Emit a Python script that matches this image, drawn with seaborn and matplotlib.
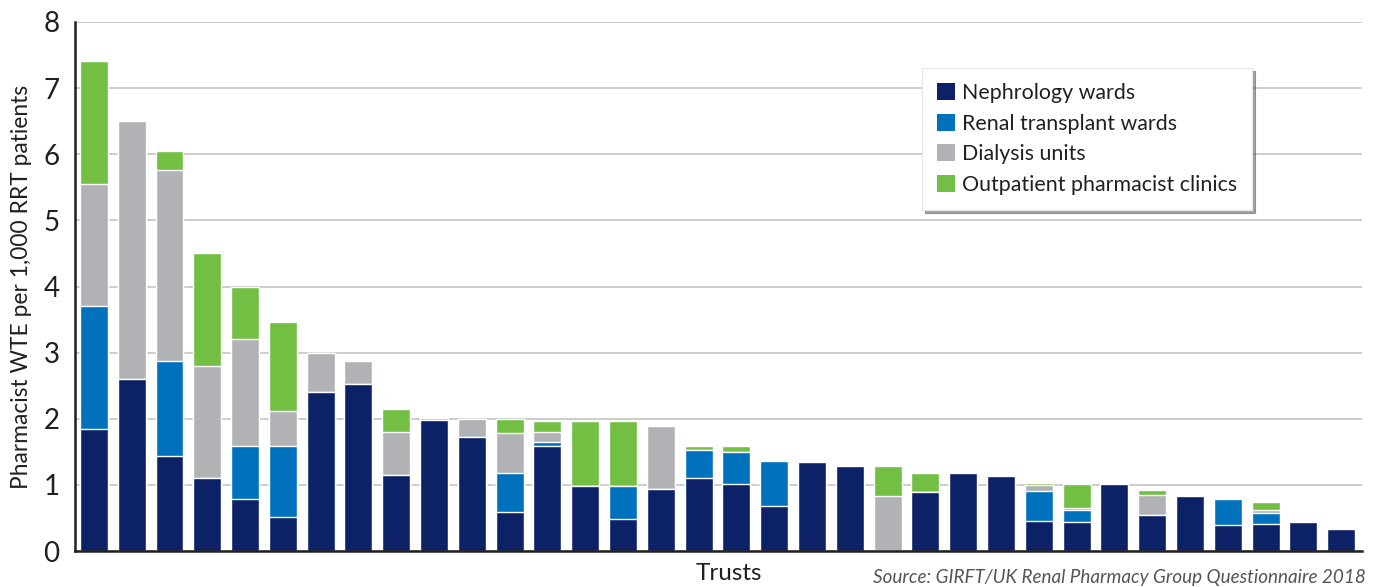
import numpy as np
import pandas as pd
import matplotlib
matplotlib.use("Agg")
import matplotlib.pyplot as plt
import seaborn as sns
from matplotlib.patches import Patch

trusts = [f"T{i+1}" for i in range(34)]
nephrology = [1.85, 2.60, 1.43, 1.11, 0.79, 0.52, 2.40, 2.53, 1.15, 1.98, 1.73, 0.59,
              1.59, 0.99, 0.49, 0.94, 1.11, 1.02, 0.68, 1.35, 1.29, 0.00, 0.89, 1.18,
              1.14, 0.46, 0.44, 1.02, 0.55, 0.83, 0.40, 0.41, 0.44, 0.33]
transplant = [1.85, 0.00, 1.45, 0.00, 0.80, 1.07, 0.00, 0.00, 0.00, 0.00, 0.00, 0.59,
              0.06, 0.00, 0.50, 0.00, 0.41, 0.47, 0.68, 0.00, 0.00, 0.00, 0.00, 0.00,
              0.00, 0.45, 0.18, 0.00, 0.00, 0.00, 0.39, 0.17, 0.00, 0.00]
dialysis = [1.85, 3.90, 2.88, 1.69, 1.61, 0.53, 0.59, 0.35, 0.65, 0.00, 0.27, 0.61,
            0.15, 0.00, 0.00, 0.95, 0.00, 0.00, 0.00, 0.00, 0.00, 0.83, 0.00, 0.00,
            0.00, 0.09, 0.03, 0.00, 0.30, 0.00, 0.00, 0.04, 0.00, 0.00]
outpatient = [1.86, 0.00, 0.29, 1.70, 0.79, 1.34, 0.00, 0.00, 0.34, 0.03, 0.00, 0.20,
              0.17, 0.98, 0.97, 0.00, 0.07, 0.10, 0.00, 0.00, 0.00, 0.46, 0.29, 0.00,
              0.00, 0.03, 0.37, 0.00, 0.07, 0.00, 0.00, 0.12, 0.00, 0.00]

series_names = ["Nephrology wards", "Renal transplant wards", "Dialysis units",
                "Outpatient pharmacist clinics"]
colors = ["#0D2167", "#0071BC", "#B1B2B6", "#72BF44"]

df = pd.DataFrame({"trust": trusts, "n": nephrology, "t": transplant,
                   "d": dialysis, "o": outpatient})
df["c1"] = df["n"]
df["c2"] = df["c1"] + df["t"]
df["c3"] = df["c2"] + df["d"]
df["c4"] = df["c3"] + df["o"]

sns.set_style("white")
plt.rcParams["font.family"] = ["Lato", "DejaVu Sans"]

fig = plt.figure(figsize=(13.84, 5.87), dpi=100)
ax = fig.add_axes([75/1384, 36/587, (1362-75)/1384, (551-22)/587])

for col, color in zip(["c4", "c3", "c2", "c1"], colors[::-1]):
    sns.barplot(data=df, x="trust", y=col, color=color, width=0.74,
                saturation=1, ax=ax, zorder=3, order=trusts)

ax.set_xlim(-0.5, 33.55)
ax.set_ylim(0, 8)
ax.set_yticks(range(0, 9))
ax.set_yticklabels([str(i) for i in range(0, 9)], fontsize=20, color="#231F20")
ax.set_xticks([])
ax.yaxis.grid(True, color="#C9C9C9", linewidth=1.3, zorder=0)
ax.set_axisbelow(True)
for s in ["top", "right"]:
    ax.spines[s].set_visible(False)
for s in ["left", "bottom"]:
    ax.spines[s].set_color("#231F20")
    ax.spines[s].set_linewidth(1.8)
    ax.spines[s].set_zorder(5)
ax.tick_params(axis="y", length=0, pad=11)

ax.set_ylabel("Pharmacist WTE per 1,000 RRT patients", fontsize=16.4, color="#231F20",
              labelpad=8)
ax.set_xlabel("")
fig.text(729/1384, 1 - 574/587, "Trusts", fontsize=17.5, color="#231F20",
         ha="center", va="center")
fig.text(1366/1384, 1 - 577/587,
         "Source: GIRFT/UK Renal Pharmacy Group Questionnaire 2018",
         fontsize=13.6, style="italic", color="#555555", ha="right", va="center")

handles = [Patch(facecolor=c, edgecolor="none") for c in colors]
leg = ax.legend(handles, series_names, loc="upper left",
                bbox_to_anchor=(922/1384, 1 - 68/587), bbox_transform=fig.transFigure,
                fontsize=15.4, frameon=True, shadow=True, fancybox=False,
                handlelength=0.85, handleheight=0.85, handletextpad=0.32,
                labelspacing=0.5, borderpad=0.7, borderaxespad=0)
leg.get_frame().set_edgecolor("#E6E6E6")
leg.get_frame().set_linewidth(0.8)
for t in leg.get_texts():
    t.set_color("#231F20")

fig.savefig("out.png", dpi=100)
